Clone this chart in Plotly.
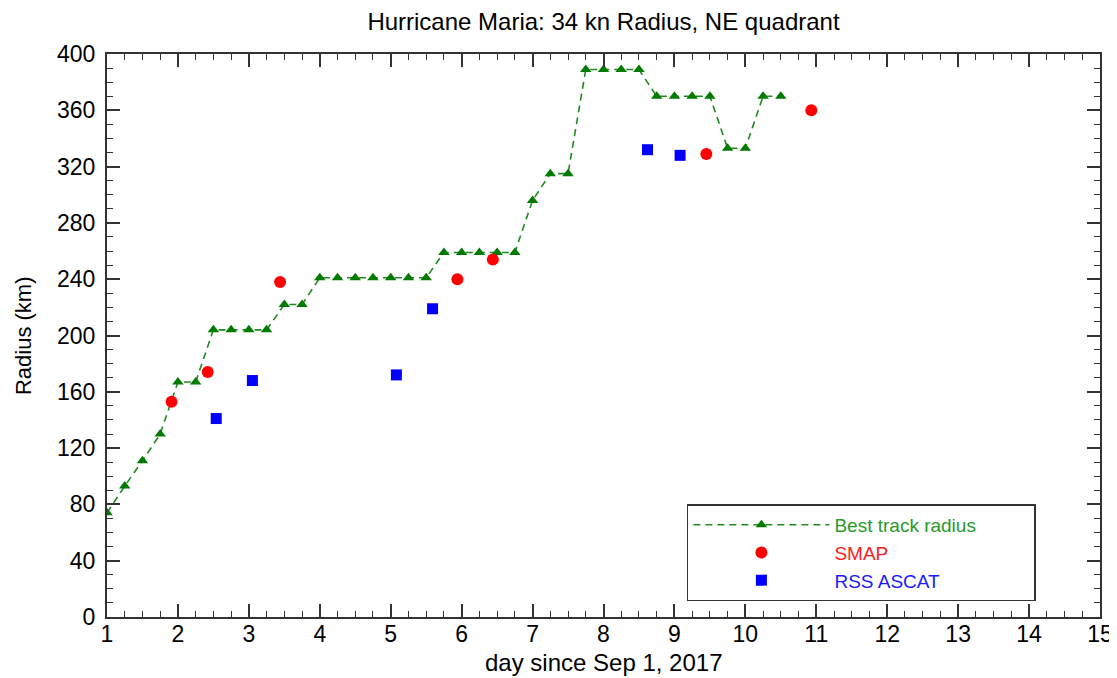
import plotly.graph_objects as go

# Best track radius (every 6 h from day 1.0)
bt_day = [1.0, 1.25, 1.5, 1.75, 2.0, 2.25, 2.5, 2.75, 3.0, 3.25, 3.5, 3.75,
          4.0, 4.25, 4.5, 4.75, 5.0, 5.25, 5.5, 5.75, 6.0, 6.25, 6.5, 6.75,
          7.0, 7.25, 7.5, 7.75, 8.0, 8.25, 8.5, 8.75, 9.0, 9.25, 9.5, 9.75,
          10.0, 10.25, 10.5]
bt_radius = [74, 93, 111, 130, 167, 167, 204, 204, 204, 204, 222, 222,
             241, 241, 241, 241, 241, 241, 241, 259, 259, 259, 259, 259,
             296, 315, 315, 389, 389, 389, 389, 370, 370, 370, 370, 333,
             333, 370, 370]

smap_day = [1.91, 2.42, 3.44, 5.94, 6.44, 9.45, 10.93]
smap_radius = [153, 174, 238, 240, 254, 329, 360]

ascat_day = [2.54, 3.05, 5.08, 5.59, 8.62, 9.08]
ascat_radius = [141, 168, 172, 219, 332, 328]

FONT = "Liberation Sans, Arial, Helvetica, sans-serif"
AX = "#333333"
pad = "\u00a0"

fig = go.Figure()
fig.add_trace(go.Scatter(
    x=bt_day, y=bt_radius, mode="lines+markers",
    name='<span style="color:#2a9a2a">Best track radius</span>' + pad * 10,
    line=dict(color="#1f8a1f", width=1.6, dash="7px,5px"),
    marker=dict(symbol="triangle-up", size=10, color="#007a00"),
))
fig.add_trace(go.Scatter(
    x=smap_day, y=smap_radius, mode="markers",
    name='<span style="color:#ff2020">SMAP</span>',
    marker=dict(symbol="circle", size=12, color="#ff0000"),
))
fig.add_trace(go.Scatter(
    x=ascat_day, y=ascat_radius, mode="markers",
    name='<span style="color:#1a1aff">RSS ASCAT</span>',
    marker=dict(symbol="square", size=11, color="#0000ff"),
))

axis_common = dict(
    showline=True, linecolor=AX, linewidth=2, mirror="allticks",
    ticks="inside", ticklen=13, tickwidth=1.5, tickcolor=AX,
    showgrid=False, zeroline=False, automargin=False,
    tickfont=dict(family=FONT, size=23, color="black"),
)

fig.update_xaxes(
    range=[1, 15], dtick=1, tick0=1, ticklabelstandoff=-5,
    minor=dict(ticks="inside", ticklen=6, tickwidth=1.2, tickcolor=AX, dtick=0.25, showgrid=False),
    **axis_common,
)
fig.update_yaxes(
    range=[0, 400], dtick=40, tick0=0, ticklabelstandoff=5,
    minor=dict(ticks="inside", ticklen=6, tickwidth=1.2, tickcolor=AX, dtick=10, showgrid=False),
    **axis_common,
)

fig.add_annotation(
    text="day since Sep 1, 2017", xref="paper", yref="paper",
    x=0.5, y=-0.08, xanchor="center", yanchor="middle", showarrow=False,
    font=dict(family=FONT, size=24, color="black"),
)
fig.add_annotation(
    text="Radius (km)", xref="paper", yref="paper", textangle=-90,
    x=-0.084, y=0.5, xanchor="center", yanchor="middle", showarrow=False,
    font=dict(family=FONT, size=22, color="black"),
)

# page body has an 8px default margin: size/margins compensate for it
fig.update_layout(
    width=1109, height=670,
    margin=dict(l=99, r=17, t=46, b=61, autoexpand=False),
    paper_bgcolor="white", plot_bgcolor="white",
    title=dict(text="Hurricane Maria: 34 kn Radius, NE quadrant",
               xref="paper", x=0.5, xanchor="center",
               y=1 - 14 / 670, yanchor="middle",
               font=dict(family=FONT, size=24, color="black")),
    legend=dict(
        x=0.584, y=0.2, xanchor="left", yanchor="top",
        bordercolor=AX, borderwidth=1.5, bgcolor="white",
        font=dict(family=FONT, size=19),
        itemwidth=136, tracegroupgap=0,
    ),
    showlegend=True,
)

fig.write_html("out.html")
